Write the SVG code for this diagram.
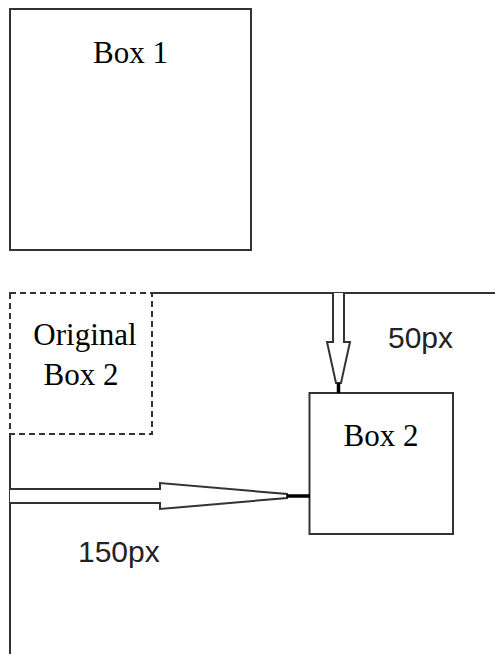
<svg xmlns="http://www.w3.org/2000/svg" width="495" height="654" viewBox="0 0 495 654">
<style>
.box{fill:none;stroke:#333;stroke-width:2}
.dash{fill:none;stroke:#333;stroke-width:2;stroke-dasharray:6,4}
.ln{fill:none;stroke:#333;stroke-width:2}
.arr{fill:#fff;stroke:#333;stroke-width:2;stroke-linejoin:miter}
.tip{stroke:#000;stroke-width:3.5}
.serif{font-family:"Liberation Serif",serif;font-size:31px;fill:#000;text-anchor:middle}
.sans{font-family:"Liberation Sans",sans-serif;font-size:30px;fill:#222}
</style>
<rect width="495" height="654" fill="#fff"/>
<g id="box1">
<rect class="box" x="10" y="9" width="241" height="241"/>
<text class="serif" x="130.5" y="63">Box 1</text>
</g>
<g id="frame">
<path class="ln" d="M150,293 H495"/>
<path class="ln" d="M10,434 V654"/>
</g>
<g id="original-box2">
<rect class="dash" x="10" y="293" width="142" height="141"/>
<text class="serif" x="85" y="345">Original</text>
<text class="serif" x="81" y="385">Box 2</text>
</g>
<g id="box2">
<rect class="box" x="309.5" y="393" width="143.5" height="141"/>
<text class="serif" x="381" y="446">Box 2</text>
</g>
<g id="connectors">
<path class="arr" d="M333,293 V342 H327 L336,383 H341 L350,342 H344 V293"/>
<line class="tip" x1="338.5" y1="383" x2="338.5" y2="393"/>
<path class="arr" d="M10,489 H160 V483 L287,494 V498 L160,509 V503 H10"/>
<line class="tip" x1="287" y1="496" x2="310" y2="496"/>
</g>
<g id="labels">
<text class="sans" x="388" y="348">50px</text>
<text class="sans" x="78" y="562">150px</text>
</g>
</svg>
